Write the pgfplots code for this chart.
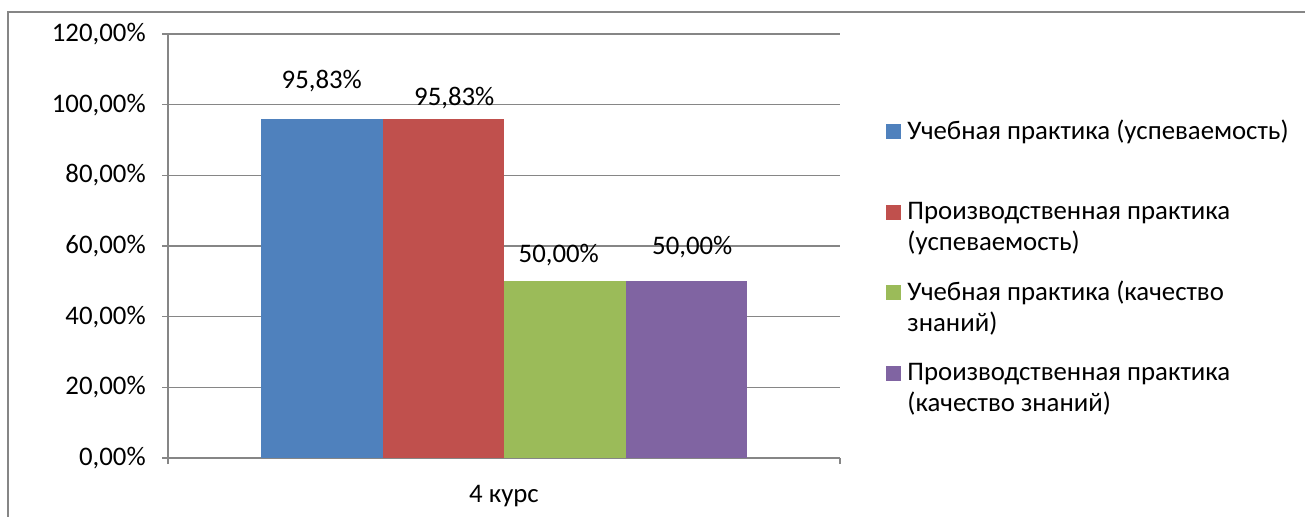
\documentclass[border=0pt]{standalone}
\usepackage{pgfplots}
\pgfplotsset{compat=1.18}
\usepackage{fontspec}
\setmainfont{Carlito}
\definecolor{cBlue}{HTML}{4F81BD}
\definecolor{cRed}{HTML}{C0504D}
\definecolor{cGreen}{HTML}{9BBB59}
\definecolor{cPurple}{HTML}{8064A2}
\definecolor{cGrid}{HTML}{868686}
\newcommand{\lgd}[1]{\parbox[t]{192pt}{\raggedright #1}}
\begin{document}
\fontsize{13.4pt}{15.5pt}\selectfont
\begin{tikzpicture}
\useasboundingbox (0,0) rectangle (652.5pt,258pt);
\draw[cGrid,line width=0.6pt] (4pt,-2pt) |- (660pt,252pt);
\begin{axis}[
  at={(84pt,29pt)}, anchor=south west,
  scale only axis, width=336pt, height=212pt,
  ybar=0pt, bar width=60.75pt,
  xmin=-1, xmax=1, ymin=0, ymax=120,
  axis x line*=bottom, axis y line*=left,
  axis line style={cGrid,line width=0.6pt},
  ymajorgrids, grid style={cGrid,line width=0.6pt},
  ytick={0,20,...,120},
  yticklabels={{0,00\%},{20,00\%},{40,00\%},{60,00\%},{80,00\%},{100,00\%},{120,00\%}},
  xtick={-1,1}, xticklabels={},
  extra x ticks={0}, extra x tick labels={4 курс},
  extra x tick style={major tick length=0pt, ticklabel style={yshift=-9pt}},
  tick align=outside, major tick length=3pt,
  tick style={cGrid,line width=0.6pt},
  ticklabel style={font=\fontsize{13.4pt}{15pt}\selectfont},
  yticklabel style={xshift=-3.5pt},
  nodes near coords={\pgfmathprintnumber[fixed,fixed zerofill,precision=2,use comma,assume math mode=true]{\pgfplotspointmeta}\%},
  every node near coord/.append style={font=\fontsize{13.4pt}{15pt}\selectfont, anchor=center},
  legend style={at={(axis description cs:1.0685,0.7995)}, anchor=north west, draw=none,
    font=\fontsize{13.4pt}{15.5pt}\selectfont, inner sep=0pt,
    nodes={inner sep=0pt, text height=10pt, text depth=30.2pt},
    /tikz/every odd column/.append style={column sep=3pt}},
  legend cell align=left,
  legend image code/.code={\fill[#1,draw=none] (0pt,10.1pt) rectangle (7.5pt,17.6pt);},
]
\addplot[fill=cBlue,draw=none,every node near coord/.append style={yshift=19pt}] coordinates {(0,95.83)};
\addplot[fill=cRed,draw=none,every node near coord/.append style={yshift=10.5pt,xshift=5.5pt}] coordinates {(0,95.83)};
\addplot[fill=cGreen,draw=none,every node near coord/.append style={yshift=13pt,xshift=-3pt}] coordinates {(0,50.00)};
\addplot[fill=cPurple,draw=none,every node near coord/.append style={yshift=17pt,xshift=3pt}] coordinates {(0,50.00)};
\legend{\lgd{Учебная практика (успеваемость)},\lgd{Производственная практика (успеваемость)},\lgd{Учебная практика (качество знаний)},\lgd{Производственная практика (качество знаний)}}
\end{axis}
\end{tikzpicture}
\end{document}
